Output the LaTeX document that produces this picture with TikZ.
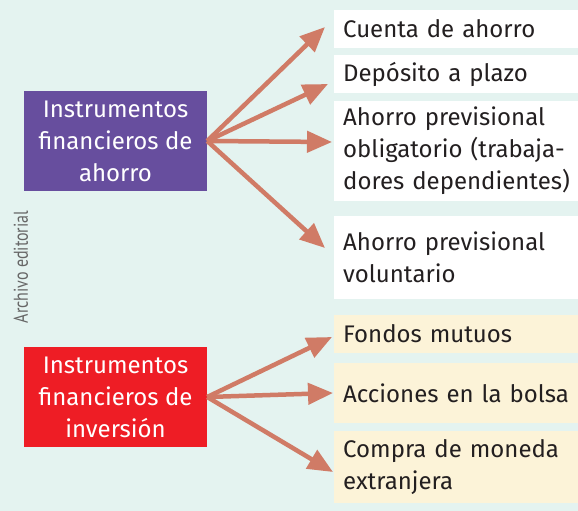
\documentclass[tikz,border=0pt]{standalone}
\usepackage{fontspec}
\setmainfont{Fira Sans}
\newfontfamily\creditfont{PT Sans}
\usetikzlibrary{arrows.meta}
\definecolor{fondo}{HTML}{E4F3F0}
\definecolor{morado}{HTML}{674E9E}
\definecolor{rojo}{HTML}{EE1D25}
\definecolor{flechacol}{HTML}{D07B66}
\definecolor{crema}{HTML}{FCF3D8}
\definecolor{texto}{HTML}{231F20}

\begin{document}
\begin{tikzpicture}[x=1pt, y=-1pt,
		caja/.style={fill=white, anchor=west, inner xsep=9pt, inner ysep=0pt, text width=240pt, align=left, font=\fontsize{24}{32}\selectfont, text=texto},
		cajainv/.style={caja, fill=crema},
		tipo/.style={minimum width=183pt, minimum height=100pt, inner sep=0pt, align=center, text=white, font=\fontsize{24}{32}\selectfont},
		flecha/.style={line width=4.5pt, draw=flechacol, -{Triangle[length=25pt, width=21pt]}}]
		%%%%% FONDO %%%%%
		\fill[fondo] (0, 0) rectangle (578, 511);
		\useasboundingbox (0, 0) rectangle (578, 511);
		
		\node[rotate=90, text=black!60, font=\creditfont\fontsize{20}{20}\selectfont] (archivo) at (21, 267) {\scalebox{0.8}[1]{Archivo editorial}};
		
		%%%%% AHORRO %%%%%
		\node[tipo, fill=morado] (ahorro) at (115.5, 141) {Instrumentos\\financieros de\\ahorro};
		
		\node[caja, minimum height=38pt] (cuenta) at (334, 29) {Cuenta de ahorro};
		\node[caja, minimum height=38pt] (deposito) at (334, 74) {Depósito a plazo};
		\node[caja, minimum height=100pt] (obligatorio) at (334, 151) {Ahorro previsional\\obligatorio (trabaja-\\dores dependientes)};
		\node[caja, minimum height=83pt] (voluntario) at (334, 257.5) {Ahorro previsional\\voluntario};
		
		\draw[flecha] (ahorro.east) -- ([shift={(-9, -2)}]cuenta.west);
		\draw[flecha] (ahorro.east) -- ([shift={(-6, 10)}]deposito.west);
		\draw[flecha] (ahorro.east) -- ([shift={(-2, -9)}]obligatorio.west);
		\draw[flecha] (ahorro.east) -- ([shift={(-9, -9.5)}]voluntario.west);
		
		%%%%% INVERSION %%%%%
		\node[tipo, fill=rojo] (inversion) at (115.5, 397) {Instrumentos\\financieros de\\inversión};
		
		\node[cajainv, minimum height=38pt] (fondos) at (334, 334) {Fondos mutuos};
		\node[cajainv, minimum height=60pt] (acciones) at (334, 393) {Acciones en la bolsa};
		\node[cajainv, minimum height=72pt] (compra) at (334, 467) {Compra de moneda\\extranjera};
		
		\draw[flecha] (inversion.east) -- ([shift={(-2, 3)}]fondos.west);
		\draw[flecha] (inversion.east) -- ([shift={(-1, 0)}]acciones.west);
		\draw[flecha] (inversion.east) -- ([shift={(-1, 5)}]compra.west);
		
		%%%%% END %%%%%
	\end{tikzpicture}
\end{document}
